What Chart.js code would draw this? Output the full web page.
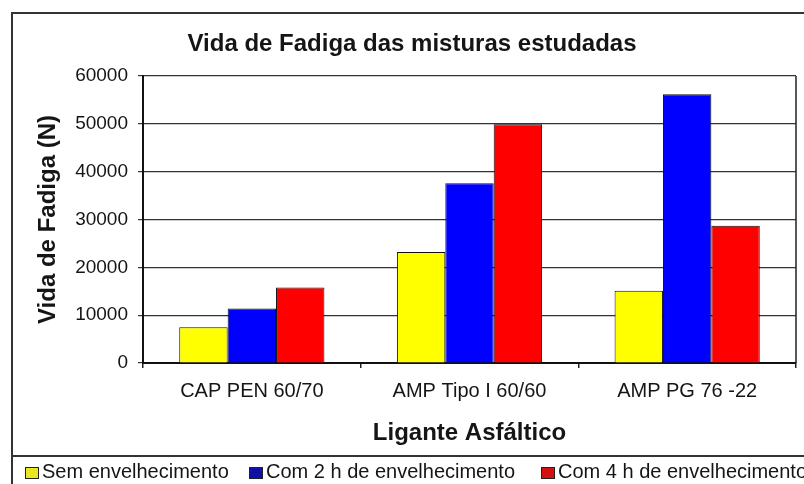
<!DOCTYPE html>
<html>
<head>
<meta charset="utf-8">
<script src="https://cdn.jsdelivr.net/npm/chart.js@4.4.1/dist/chart.umd.min.js"></script>
<style>
  html, body { margin: 0; padding: 0; background: #fff; overflow: hidden; }
  canvas { display: block; }
</style>
</head>
<body>
<canvas id="fadigaChart" width="804" height="484"></canvas>
<script>

/******************************************************************
DATA
******************************************************************/

var ligantes = ["CAP PEN 60/70", "AMP Tipo I 60/60", "AMP PG 76 -22"];
var semEnvelhecimento = [7500, 23200, 15100];
var com2h = [11400, 37600, 56200];
var com4h = [15800, 49900, 28700];
var serieNomes = ["Sem envelhecimento", "Com 2 h de envelhecimento", "Com 4 h de envelhecimento"];
var serieCores = ["#ffff00", "#0000ff", "#ff0000"];
var legendaCores = ["#e8e820", "#1010a8", "#d41010"];

var FONT = "'Liberation Sans', Arial, sans-serif";
var INK = "#151515";

/******************************************************************
FRAME + LEGEND (drawn like the Excel export)
******************************************************************/

var moldura = {
  id: 'moldura',
  beforeDraw: function (chart) {
    var ctx = chart.ctx;
    ctx.save();
    ctx.fillStyle = '#fff';
    ctx.fillRect(0, 0, chart.width, chart.height);
    ctx.strokeStyle = '#333';
    ctx.lineWidth = 2;
    ctx.strokeRect(12, 13, chart.width + 20, chart.height + 20);
    ctx.beginPath();
    ctx.moveTo(12, 456);
    ctx.lineTo(chart.width, 456);
    ctx.stroke();
    ctx.restore();
  },
  afterDatasetsDraw: function (chart) {
    var ctx = chart.ctx;
    var a = chart.chartArea;
    ctx.save();
    ctx.strokeStyle = '#222';
    ctx.lineWidth = 1.5;
    ctx.beginPath();
    ctx.moveTo(a.right, a.top);
    ctx.lineTo(a.right, a.bottom);
    ctx.stroke();
    ctx.restore();
  },
  afterDraw: function (chart) {
    var ctx = chart.ctx;
    var xs = [25, 249, 541];
    ctx.save();
    ctx.font = "20px " + FONT;
    ctx.textBaseline = 'middle';
    ctx.fillStyle = INK;
    chart.data.datasets.forEach(function (ds, i) {
      ctx.fillStyle = legendaCores[i];
      ctx.fillRect(xs[i], 467, 13, 11);
      ctx.strokeStyle = '#222';
      ctx.lineWidth = 1;
      ctx.strokeRect(xs[i] + 0.5, 467.5, 13, 11);
      ctx.fillStyle = INK;
      ctx.fillText(ds.label, xs[i] + 17, 472);
    });
    ctx.restore();
  }
};

/******************************************************************
CHART
******************************************************************/

var ctx = document.getElementById('fadigaChart').getContext('2d');
var chart = new Chart(ctx, {
  type: 'bar',
  data: {
    labels: ligantes,
    datasets: [
      { label: serieNomes[0], data: semEnvelhecimento, backgroundColor: serieCores[0] },
      { label: serieNomes[1], data: com2h, backgroundColor: serieCores[1] },
      { label: serieNomes[2], data: com4h, backgroundColor: serieCores[2] }
    ]
  },
  options: {
    responsive: false,
    animation: false,
    layout: { padding: { top: 12, left: 28, right: 8, bottom: 28 } },
    datasets: {
      bar: {
        categoryPercentage: 0.667,
        barPercentage: 1,
        borderColor: '#111',
        borderWidth: 1
      }
    },
    plugins: {
      legend: { display: false },
      tooltip: { enabled: false },
      title: {
        display: true,
        text: 'Vida de Fadiga das misturas estudadas',
        color: INK,
        font: { family: FONT, size: 24, weight: 'bold' },
        padding: { top: 17.6, bottom: 17.6 }
      }
    },
    scales: {
      x: {
        afterFit: function (scale) { scale.height = 93; },
        grid: {
          offset: true,
          drawOnChartArea: false,
          drawTicks: true,
          tickLength: 5,
          color: '#222',
          lineWidth: 1.5
        },
        border: { display: true, color: '#111', width: 2 },
        ticks: {
          color: INK,
          padding: 11,
          font: { family: FONT, size: 20 }
        },
        title: {
          display: true,
          text: 'Ligante Asfáltico',
          color: INK,
          font: { family: FONT, size: 24, weight: 'bold' },
          padding: { top: 0, bottom: 8.6 }
        }
      },
      y: {
        min: 0,
        max: 60000,
        afterFit: function (scale) { scale.width = 115; },
        grid: {
          color: '#333',
          lineWidth: 1.2,
          drawTicks: true,
          tickLength: 5
        },
        border: { display: true, color: '#111', width: 2 },
        ticks: {
          stepSize: 10000,
          color: INK,
          padding: 10,
          font: { family: FONT, size: 19 },
          callback: function (value) { return String(value); }
        },
        title: {
          display: true,
          text: 'Vida de Fadiga (N)',
          color: INK,
          font: { family: FONT, size: 24, weight: 'bold' },
          padding: { top: 5.5, bottom: 0 }
        }
      }
    }
  },
  plugins: [moldura]
});

</script>
</body>
</html>
